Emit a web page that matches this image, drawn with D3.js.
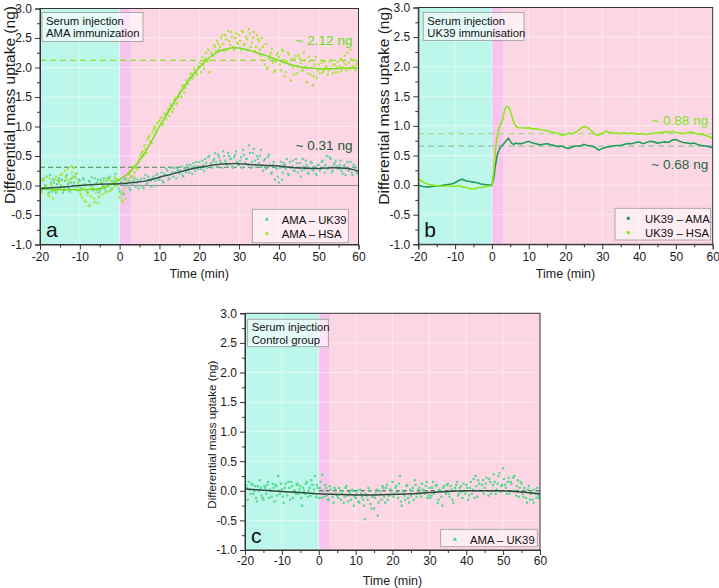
<!DOCTYPE html>
<html><head><meta charset="utf-8">
<script src="https://cdn.jsdelivr.net/npm/d3@7"></script>
<style>body{margin:0;background:#fff}svg{display:block}text{font-family:"Liberation Sans",Arial,sans-serif}</style>
</head><body>
<svg id="chart" width="719" height="588"></svg>
<script>
// ---------------- DATA ----------------
const xTicks = [-20, -10, 0, 10, 20, 30, 40, 50, 60];
const xMinor = [-15, -5, 5, 15, 25, 35, 45, 55];
const yTicks = [-1.0, -0.5, 0.0, 0.5, 1.0, 1.5, 2.0, 2.5, 3.0];
const yMinor = [-0.75, -0.25, 0.25, 0.75, 1.25, 1.75, 2.25, 2.75];
const phases = [[-20, 0], [0, 3], [3, 60]]; // baseline, injection, association (min)

// scatter sample times (min): two interleaved reading grids
const sampleTimes = d3.range(-20, 60.001, 0.5);
const sampleTimes2 = d3.range(-19.75, 60, 0.5);

// Panel a: AMA immunization
const aHSA = [
  0.05,-0.12,0.10,-0.02,-0.15,0.12,0.00,-0.08,0.15,-0.05,
  0.08,0.20,-0.05,0.15,0.28,0.10,0.22,0.30,0.12,0.05,
  -0.10,-0.20,0.02,-0.28,-0.15,-0.33,-0.05,-0.22,-0.12,-0.30,
  -0.18,-0.05,0.08,-0.12,0.00,0.10,-0.08,0.05,0.12,0.02,
  -0.20,-0.25,-0.12,-0.22,0.10,0.20,0.25,0.15,0.30,0.28,
  0.45,0.55,0.50,0.62,0.78,0.85,0.72,0.95,0.98,1.05,
  1.10,1.15,1.05,1.20,1.25,1.18,1.38,1.30,1.48,1.40,
  1.55,1.50,1.70,1.65,1.75,1.82,1.90,1.85,1.95,1.88,
  2.00,1.92,2.05,2.15,2.10,1.92,2.25,2.20,2.35,2.45,
  2.30,2.50,2.40,2.55,2.30,2.45,2.60,2.35,2.50,2.42,
  2.55,2.30,2.60,2.40,2.48,2.65,2.35,2.50,2.28,2.55,
  2.45,2.20,2.35,2.05,1.98,2.15,2.25,2.08,1.95,2.22,
  2.18,1.95,2.28,1.85,2.10,2.22,1.78,2.00,2.15,1.90,
  2.20,2.08,1.95,2.12,1.75,2.18,1.88,1.70,2.05,1.82,
  2.05,1.98,1.92,2.10,2.00,1.95,2.12,1.90,2.05,2.00,
  1.92,2.15,2.00,2.20,1.95,2.08,2.30,2.00,2.12,2.05,
  2.08];
const aHSA2 = [
  -0.10,0.08,-0.05,0.15,-0.18,0.02,-0.22,0.10,-0.10,0.05,
  0.18,-0.02,0.25,0.10,0.05,0.32,0.15,-0.05,0.20,0.00,
  -0.15,-0.05,-0.25,-0.10,-0.35,-0.18,-0.02,-0.28,-0.08,-0.20,
  0.05,-0.15,-0.02,0.12,-0.10,0.08,-0.05,0.15,0.00,0.10,
  -0.15,-0.28,-0.05,0.05,0.18,0.12,0.32,0.22,0.35,0.40,
  0.50,0.58,0.68,0.55,0.82,0.75,0.90,1.00,0.92,1.08,
  1.15,1.02,1.22,1.12,1.30,1.35,1.25,1.45,1.38,1.50,
  1.60,1.68,1.58,1.78,1.72,1.88,1.80,1.98,1.90,2.02,
  2.08,2.18,1.98,2.25,2.30,2.12,2.20,2.38,2.28,2.40,
  2.35,2.55,2.28,2.48,2.62,2.38,2.52,2.30,2.58,2.40,
  2.45,2.62,2.38,2.52,2.30,2.58,2.42,2.60,2.35,2.48,
  2.30,2.50,2.12,2.40,2.00,2.20,2.32,1.92,2.10,2.25,
  2.05,2.30,2.12,1.92,2.25,2.05,2.15,1.88,2.20,2.02,
  2.15,1.95,2.25,2.02,1.90,2.10,2.00,1.85,2.18,1.95,
  1.90,2.08,1.95,2.02,1.88,2.10,1.98,2.05,1.92,2.10,
  2.02,1.95,2.10,2.05,2.25,1.98,2.15,2.02,1.95,2.10];
const aUK39 = [
  0.02,-0.08,0.12,0.00,-0.05,0.18,-0.10,0.05,-0.12,0.08,
  -0.05,0.10,-0.08,0.15,0.02,-0.10,0.12,0.05,0.20,-0.02,
  0.08,-0.05,0.10,0.00,-0.12,0.06,0.14,-0.06,0.02,0.10,
  -0.08,0.05,0.12,-0.10,0.00,0.15,-0.05,0.08,0.20,0.02,
  -0.10,0.05,-0.15,0.12,0.00,-0.05,0.15,0.08,-0.02,0.10,
  0.00,0.12,-0.05,0.18,0.05,0.10,-0.02,0.15,0.08,0.20,
  0.10,0.22,0.05,0.18,0.25,0.12,0.30,0.15,0.22,0.28,
  0.20,0.32,0.15,0.28,0.35,0.22,0.30,0.38,0.25,0.33,
  0.40,0.28,0.35,0.45,0.30,0.50,0.38,0.42,0.55,0.32,
  0.48,0.38,0.58,0.42,0.35,0.50,0.45,0.30,0.52,0.40,
  0.35,0.48,0.60,0.38,0.45,0.68,0.30,0.55,0.42,0.50,
  0.38,0.60,0.25,0.45,0.30,0.52,0.20,0.35,0.10,0.28,
  0.05,0.40,0.22,0.35,0.45,0.18,0.30,0.42,0.25,0.38,
  0.30,0.15,0.45,0.28,0.35,0.20,0.40,0.25,0.32,0.18,
  0.35,0.28,0.42,0.22,0.50,0.30,0.45,0.25,0.38,0.32,
  0.28,0.42,0.20,0.35,0.30,0.25,0.40,0.18,0.32,0.22,
  0.25];
const aUK39b = [
  0.10,-0.05,0.00,0.15,-0.12,0.05,0.10,-0.08,0.02,0.12,
  0.00,-0.12,0.08,0.18,-0.05,0.05,0.00,0.15,-0.08,0.10,
  -0.05,0.12,0.02,-0.10,0.08,0.00,-0.08,0.12,0.05,-0.12,
  0.10,0.00,-0.05,0.08,0.12,-0.08,0.05,0.00,0.10,-0.05,
  0.05,-0.12,0.10,0.00,0.08,-0.08,0.02,0.12,0.05,-0.05,
  0.08,-0.02,0.12,0.02,0.15,0.08,0.12,0.00,0.18,0.10,
  0.15,0.08,0.20,0.28,0.10,0.18,0.22,0.30,0.12,0.25,
  0.25,0.18,0.30,0.22,0.28,0.35,0.20,0.32,0.40,0.28,
  0.32,0.42,0.25,0.38,0.48,0.35,0.30,0.45,0.40,0.52,
  0.42,0.30,0.50,0.38,0.55,0.45,0.32,0.48,0.58,0.35,
  0.42,0.30,0.52,0.45,0.35,0.55,0.40,0.62,0.32,0.45,
  0.50,0.32,0.42,0.28,0.48,0.35,0.22,0.40,0.30,0.15,
  0.30,0.10,0.38,0.28,0.20,0.40,0.32,0.25,0.45,0.22,
  0.38,0.25,0.32,0.42,0.22,0.30,0.38,0.28,0.20,0.35,
  0.25,0.40,0.30,0.35,0.28,0.48,0.22,0.35,0.42,0.30,
  0.35,0.25,0.32,0.18,0.40,0.28,0.22,0.35,0.30,0.20];
const aFitTimes = [-20,-15,-10,-5,-2,0,2,4,6,8,10,12,14,16,18,20,22,24,26,28,30,32,34,36,38,40,42,44,46,48,50,54,58,60];
const aFitHSA   = [-0.06,-0.07,-0.07,-0.05,0.02,0.10,0.20,0.34,0.52,0.75,1.00,1.22,1.44,1.65,1.84,2.00,2.14,2.24,2.30,2.33,2.33,2.30,2.26,2.22,2.17,2.12,2.07,2.03,2.00,1.99,1.98,1.98,1.99,1.99];
const aFitUK39  = [-0.05,-0.03,0.00,0.02,0.025,0.03,0.04,0.055,0.07,0.10,0.14,0.175,0.21,0.245,0.28,0.31,0.33,0.35,0.365,0.37,0.37,0.36,0.35,0.345,0.335,0.33,0.315,0.30,0.295,0.29,0.29,0.30,0.28,0.24];
const aPlateau = {HSA: 2.12, UK39: 0.31};

// Panel b: UK39 immunisation
const bTimes = [-20,-19,-18,-17,-16,-15,-14,-13,-12,-11,-10,-9,-8,-7,-6,-5,-4,-3,-2,-1,0,
  0.5,1,1.5,2,2.5,3,3.5,4,4.5,5,5.5,6,6.5,7,
  8,9,10,11,12,13,14,15,16,17,18,19,20,21,22,23,24,25,26,27,28,29,30,31,32,33,34,
  35,36,37,38,39,40,41,42,43,44,45,46,47,48,49,50,51,52,53,54,55,56,57,58,59,60];
const bAMA = [0.00,-0.02,-0.03,-0.03,-0.02,-0.02,-0.01,0.00,0.01,0.02,0.04,0.08,0.10,0.07,0.06,0.05,0.04,0.02,0.01,0.00,0.00,
  0.12,0.35,0.52,0.60,0.66,0.68,0.72,0.76,0.79,0.74,0.70,0.69,0.71,0.70,
  0.70,0.72,0.74,0.71,0.70,0.68,0.69,0.70,0.68,0.67,0.65,0.66,0.63,0.62,0.65,0.66,0.66,0.69,0.67,0.66,0.64,0.59,0.62,0.64,0.65,0.66,0.67,
  0.67,0.69,0.70,0.70,0.72,0.73,0.70,0.72,0.74,0.73,0.71,0.72,0.73,0.72,0.76,0.77,0.74,0.72,0.71,0.70,0.71,0.68,0.67,0.66,0.65,0.63];
const bHSA = [0.12,0.06,0.03,0.01,0.00,-0.01,-0.02,-0.02,-0.01,-0.02,-0.02,-0.01,-0.03,-0.04,-0.06,-0.07,-0.05,-0.04,-0.03,-0.02,-0.01,
  0.25,0.62,0.85,0.98,1.05,1.12,1.28,1.33,1.32,1.26,1.15,1.05,1.00,0.97,
  0.97,0.96,0.97,0.95,0.95,0.94,0.93,0.92,0.90,0.89,0.87,0.84,0.85,0.88,0.87,0.90,0.95,0.99,0.97,0.92,0.86,0.84,0.88,0.91,0.89,0.88,0.88,
  0.87,0.88,0.87,0.88,0.87,0.86,0.87,0.85,0.87,0.88,0.88,0.89,0.90,0.89,0.91,0.89,0.88,0.87,0.88,0.90,0.88,0.86,0.86,0.84,0.82,0.79];
const bPlateau = {HSA: 0.87, AMA: 0.66};

// Panel c: control group
const cUK39 = [
  -0.20,0.05,0.15,-0.05,0.10,0.00,-0.12,0.08,0.18,-0.08,
  -0.15,0.05,0.10,-0.12,0.00,0.12,-0.18,0.08,0.25,-0.05,
  0.02,-0.20,0.12,-0.08,0.05,0.15,-0.12,0.00,0.10,-0.05,
  0.08,-0.25,0.00,0.12,-0.10,0.05,0.18,-0.05,0.25,0.10,
  -0.12,0.15,0.27,-0.10,0.05,-0.15,0.08,-0.05,-0.20,0.02,
  -0.08,0.05,-0.15,0.00,-0.10,0.08,-0.18,-0.05,0.02,-0.25,
  -0.12,0.00,-0.20,-0.05,-0.15,-0.48,-0.08,0.05,-0.22,-0.10,
  -0.30,-0.05,-0.42,0.00,-0.15,0.05,-0.20,0.10,-0.08,0.02,
  0.15,-0.05,0.08,-0.12,0.25,-0.25,-0.02,-0.15,0.10,-0.20,
  -0.08,0.05,0.18,-0.10,0.02,-0.05,0.12,0.00,0.08,-0.12,
  0.05,-0.08,0.15,-0.02,0.10,-0.15,0.00,-0.25,0.08,-0.05,
  0.12,-0.10,0.02,-0.20,0.05,0.15,-0.05,0.08,-0.12,0.00,
  0.10,-0.15,0.05,-0.05,0.20,0.25,-0.10,0.12,0.00,0.18,
  0.05,0.22,-0.08,0.15,0.00,0.28,-0.05,0.12,0.30,0.08,
  0.38,0.10,-0.05,0.22,0.15,0.00,0.25,-0.08,0.18,0.05,
  0.12,-0.10,0.00,-0.20,0.08,-0.05,-0.15,0.02,-0.12,-0.08,
  -0.05];
const cUK39b = [
  0.10,-0.15,0.02,0.12,-0.05,0.08,-0.18,0.00,0.05,-0.12,
  0.08,-0.05,0.15,0.02,-0.10,0.05,0.10,-0.08,0.00,0.12,
  -0.10,0.05,-0.02,0.15,-0.15,0.08,0.00,-0.05,0.12,0.02,
  -0.12,0.05,-0.05,0.15,0.00,-0.08,0.10,0.02,-0.10,0.05,
  0.05,-0.12,0.00,0.10,-0.08,-0.15,0.02,-0.10,0.05,-0.05,
  -0.12,0.00,-0.05,-0.20,0.05,-0.08,-0.02,-0.15,0.00,-0.10,
  -0.05,-0.18,0.02,-0.10,-0.25,-0.05,-0.15,0.00,-0.30,-0.08,
  -0.12,0.02,-0.20,-0.05,0.08,-0.10,0.05,-0.15,0.02,-0.05,
  -0.10,0.05,-0.02,0.12,-0.18,0.00,-0.08,0.08,-0.12,0.02,
  0.00,-0.15,0.10,-0.05,0.05,-0.10,0.02,-0.05,0.15,-0.08,
  -0.12,0.05,-0.05,0.08,-0.20,0.02,-0.10,0.05,-0.02,0.10,
  -0.05,0.08,-0.15,0.00,0.10,-0.08,0.05,-0.02,0.12,-0.05,
  0.05,-0.08,0.15,0.02,-0.12,0.08,0.18,0.00,0.10,-0.05,
  0.12,0.00,0.20,-0.05,0.10,0.15,0.02,0.25,-0.02,0.10,
  0.20,0.05,0.15,-0.05,0.12,0.22,0.00,0.08,-0.10,0.15,
  -0.05,0.05,-0.12,0.02,-0.15,0.00,-0.20,-0.05,0.05,-0.12];
const cFitTimes = [-20,-15,-10,-5,0,5,10,15,20,25,30,35,40,45,50,55,60];
const cFitUK39  = [0.03,0.01,-0.01,-0.03,-0.05,-0.06,-0.07,-0.07,-0.06,-0.05,-0.03,-0.01,0.00,0.00,0.00,-0.02,-0.05];

// ---------------- DRAWING ----------------
const svg = d3.select("#chart");
const C = {
  cyan: "#bdf6ea", band: "#f7c4ee", pink: "#fdd6e5",
  hsaPt: "#a8e83c", hsaLine: "#74e01e", hsaDash: "#8ae030", hsaText: "#62e21c",
  ukPt: "#66d2a6", fitDark: "#2f5545", ukDash: "#3d8c55", ukText: "#1d5a36",
  bDark: "#1f9e5c", bLight: "#8ee820", bDarkText: "#1a6e40", bLightText: "#7ee61a",
  cPt: "#4fdc8a", cFit: "#2e4a3c"
};
const FONT = "'Liberation Sans', Arial, sans-serif";
const fmt = v => d3.format(".1f")(v).replace("\u2212", "-");
const xfmt = v => String(v);

function panel(box, opt) {
  const g = svg.append("g");
  const x = d3.scaleLinear().domain([-20, 60]).range([box.l, box.r]);
  const y = d3.scaleLinear().domain([-1, 3]).range([box.b, box.t]);
  const phaseCols = [C.cyan, C.band, C.pink];
  phases.forEach((p, i) => {
    g.append("rect").attr("x", x(p[0])).attr("y", box.t)
      .attr("width", x(p[1]) - x(p[0])).attr("height", box.b - box.t)
      .attr("fill", phaseCols[i]);
  });
  xTicks.slice(1, -1).forEach(t => g.append("line").attr("x1", x(t)).attr("x2", x(t))
    .attr("y1", box.t).attr("y2", box.b).attr("stroke", "#fff").attr("stroke-opacity", 0.45));
  yTicks.slice(1, -1).forEach(t => g.append("line").attr("x1", box.l).attr("x2", box.r)
    .attr("y1", y(t)).attr("y2", y(t)).attr("stroke", "#fff").attr("stroke-opacity", 0.45));
  const id = "clip" + opt.name;
  svg.append("clipPath").attr("id", id).append("rect")
    .attr("x", box.l).attr("y", box.t).attr("width", box.r - box.l).attr("height", box.b - box.t);
  const d = g.append("g").attr("clip-path", `url(#${id})`);
  opt.draw(d, x, y);
  g.append("rect").attr("x", box.l).attr("y", box.t).attr("width", box.r - box.l)
    .attr("height", box.b - box.t).attr("fill", "none").attr("stroke", "#333");
  g.append("g").attr("transform", `translate(0,${box.b})`)
    .call(d3.axisBottom(x).tickValues(xTicks).tickFormat(xfmt).tickSize(5).tickPadding(opt.xPad));
  g.append("g").attr("transform", `translate(0,${box.b})`)
    .call(d3.axisBottom(x).tickValues(xMinor).tickFormat("").tickSize(3)).select(".domain").remove();
  g.append("g").attr("transform", `translate(${box.l},0)`)
    .call(d3.axisLeft(y).tickValues(yTicks).tickFormat(fmt).tickSize(5).tickPadding(3));
  g.append("g").attr("transform", `translate(${box.l},0)`)
    .call(d3.axisLeft(y).tickValues(yMinor).tickFormat("").tickSize(3)).select(".domain").remove();
  g.selectAll(".tick text").attr("font-size", 12).attr("fill", "#1a1a1a").attr("font-family", FONT);
  g.selectAll(".domain, .tick line").attr("stroke", "#333");
  g.append("text").attr("x", (box.l + box.r) / 2).attr("y", opt.xTitleY).attr("text-anchor", "middle")
    .attr("font-size", 12.5).attr("fill", "#1a1a1a").text("Time (min)");
  g.append("text").attr("transform", `translate(${opt.yTitleX},${opt.yTitleC}) rotate(-90)`)
    .attr("text-anchor", "middle").attr("dy", "0.35em").attr("font-size", opt.yTitleSize).attr("fill", "#1a1a1a")
    .text("Differential mass uptake (ng)");
  const ib = opt.info;
  g.append("rect").attr("x", box.l + ib.dx).attr("y", box.t + ib.dy).attr("width", ib.w).attr("height", ib.h)
    .attr("fill", "#fff").attr("fill-opacity", 0.6).attr("stroke", "#9a9a9a").attr("stroke-width", 0.8);
  ib.lines.forEach((s, i) => g.append("text").attr("x", box.l + ib.dx + 4).attr("y", box.t + ib.dy + 12 + i * 12.8)
    .attr("font-size", 11.3).attr("fill", "#111").text(s));
  const lg = opt.legend;
  g.append("rect").attr("x", lg.x).attr("y", lg.y).attr("width", lg.w).attr("height", lg.h)
    .attr("fill", "#fff").attr("fill-opacity", 0.55).attr("stroke", "#9a9a9a").attr("stroke-width", 0.8);
  lg.items.forEach((it, i) => {
    const cy = lg.y + 10 + i * 14.3;
    g.append("rect").attr("x", lg.x + lg.mx - 1.5).attr("y", cy - 1.5).attr("width", 3).attr("height", 3).attr("fill", it.c);
    g.append("text").attr("x", lg.x + lg.tx).attr("y", cy + 4.2).attr("font-size", 11.3).attr("fill", "#111").text(it.t);
  });
  g.append("text").attr("x", box.l + 6).attr("y", box.b - 7.5).attr("font-size", 21).attr("fill", "#111").text(opt.name);
  return {g, x, y};
}

function scatter(sel, xs, ys, x, y, col) {
  sel.append("g").selectAll("rect").data(ys).enter().append("rect")
    .attr("x", (v, i) => x(xs[i]) - 1.1).attr("y", v => y(v) - 1.1)
    .attr("width", 2.2).attr("height", 2.2).attr("fill", col);
}
function curve(sel, xs, ys, x, y, col, w, c) {
  sel.append("path").datum(ys).attr("fill", "none").attr("stroke", col).attr("stroke-width", w)
    .attr("d", d3.line().x((v, i) => x(xs[i])).y(v => y(v)).curve(c || d3.curveCatmullRom));
}
function hline(sel, x, y, v, from, to, col, dash, w) {
  sel.append("line").attr("x1", x(from)).attr("x2", x(to)).attr("y1", y(v)).attr("y2", y(v))
    .attr("stroke", col).attr("stroke-width", w || 1).attr("stroke-dasharray", dash || null);
}

// Panel a
const A = panel({l: 40, r: 358.5, t: 8.5, b: 244.5}, {
  name: "a", xPad: 3, xTitleY: 278, yTitleX: 9.5, yTitleC: 105, yTitleSize: 15.5,
  info: {dx: 2, dy: 4, w: 101, h: 29, lines: ["Serum injection", "AMA immunization"]},
  legend: {x: 252.3, y: 209.3, w: 96, h: 33.4, mx: 14.5, tx: 29.5,
    items: [{t: "AMA \u2013 UK39", c: C.ukPt}, {t: "AMA \u2013 HSA", c: C.hsaPt}]},
  draw: (d, x, y) => {
    hline(d, x, y, 0, 0, 60, "#8a8a8a", null, 1);
    hline(d, x, y, aPlateau.HSA, -20, 60, C.hsaDash, "6,4", 1.2);
    hline(d, x, y, aPlateau.UK39, -20, 60, C.ukDash, "5,3", 1.1);
    scatter(d, sampleTimes, aUK39, x, y, C.ukPt);
    scatter(d, sampleTimes2, aUK39b, x, y, C.ukPt);
    scatter(d, sampleTimes, aHSA, x, y, C.hsaPt);
    scatter(d, sampleTimes2, aHSA2, x, y, C.hsaPt);
    curve(d, aFitTimes, aFitHSA, x, y, C.hsaLine, 1.5);
    curve(d, aFitTimes, aFitUK39, x, y, C.fitDark, 1.5);
  }
});
A.g.append("text").attr("x", A.x(58.5)).attr("y", A.y(2.38)).attr("text-anchor", "end")
  .attr("font-size", 13.6).attr("fill", C.hsaText).text("~ 2.12 ng");
A.g.append("text").attr("x", A.x(58.5)).attr("y", A.y(0.60)).attr("text-anchor", "end")
  .attr("font-size", 13.6).attr("fill", C.ukText).text("~ 0.31 ng");

// Panel b
const B = panel({l: 418.3, r: 712.7, t: 7.5, b: 244.3}, {
  name: "b", xPad: 3, xTitleY: 278, yTitleX: 383.3, yTitleC: 105.7, yTitleSize: 15.5,
  info: {dx: 5, dy: 5, w: 100.7, h: 28, lines: ["Serum injection", "UK39 immunisation"]},
  legend: {x: 615, y: 208.3, w: 95.7, h: 31.7, mx: 13.3, tx: 30,
    items: [{t: "UK39 \u2013 AMA", c: C.bDark}, {t: "UK39 \u2013 HSA", c: C.bLight}]},
  draw: (d, x, y) => {
    hline(d, x, y, bPlateau.HSA, -20, 60, "#a9d98c", "6,4", 1.3);
    hline(d, x, y, bPlateau.AMA, -20, 60, "#8cc79e", "6,4", 1.3);
    curve(d, bTimes, bAMA, x, y, C.bDark, 1.6, d3.curveLinear);
    curve(d, bTimes, bHSA, x, y, C.bLight, 1.6, d3.curveLinear);
  }
});
B.g.append("text").attr("x", B.x(58.8)).attr("y", B.y(1.02)).attr("text-anchor", "end")
  .attr("font-size", 13.6).attr("fill", C.bLightText).text("~ 0.88 ng");
B.g.append("text").attr("x", B.x(58.8)).attr("y", B.y(0.28)).attr("text-anchor", "end")
  .attr("font-size", 13.6).attr("fill", C.bDarkText).text("~ 0.68 ng");

// Panel c
const Cp = panel({l: 245, r: 540, t: 313.3, b: 550}, {
  name: "c", xPad: 1, xTitleY: 585, yTitleX: 211.7, yTitleC: 434.7, yTitleSize: 11.6,
  info: {dx: 2.7, dy: 6, w: 80.6, h: 27.4, lines: ["Serum injection", "Control group"]},
  legend: {x: 440.7, y: 529.3, w: 96.6, h: 17.4, mx: 14.3, tx: 29.3,
    items: [{t: "AMA \u2013 UK39", c: C.cPt}]},
  draw: (d, x, y) => {
    hline(d, x, y, 0, 0, 60, "#333", "4,3", 1);
    scatter(d, sampleTimes, cUK39, x, y, C.cPt);
    scatter(d, sampleTimes2, cUK39b, x, y, C.cPt);
    curve(d, cFitTimes, cFitUK39, x, y, C.cFit, 1.5);
  }
});
</script>
</body></html>
